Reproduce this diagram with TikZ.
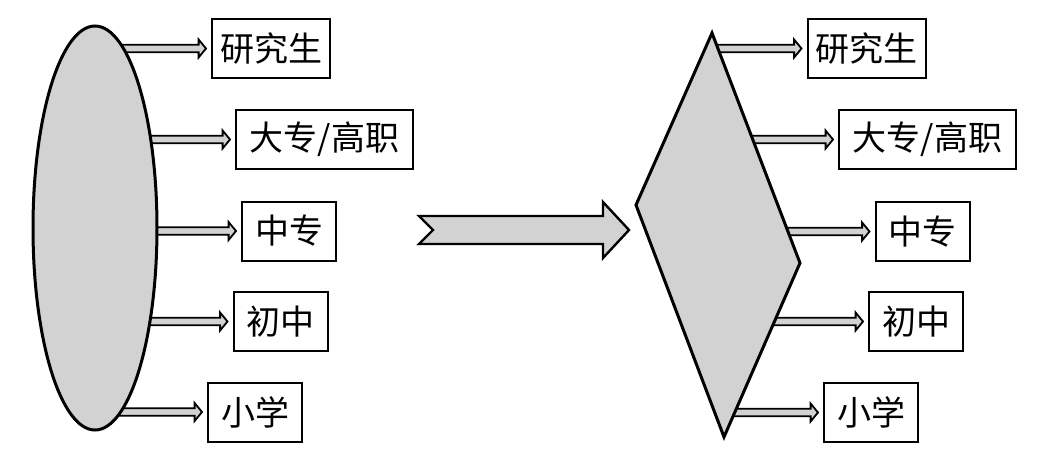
\documentclass[tikz,border=0pt]{standalone}
\usepackage{fontspec}
\newfontfamily\cjk{Noto Sans CJK SC}
\usepackage{tikz}
\usetikzlibrary{calc,shapes.geometric}

% flat double arrow from a point to a box
\newcommand{\fatarrow}[2]{%
  \path[fat] let \p1=(#1), \p2=(#2) in
    (\x1,\y1+1.9pt) -- (\x2-6.2pt,\y1+1.9pt) -- (\x2-6.2pt,\y1+4.5pt)
    -- (\x2-2.5pt,\y1) -- (\x2-6.2pt,\y1-4.5pt) -- (\x2-6.2pt,\y1-1.9pt)
    -- (\x1,\y1-1.9pt) -- cycle;}

\begin{document}
\begin{tikzpicture}[
  x=0.5pt, y=-0.5pt,
  every node/.style={font=\cjk\fontsize{17}{20}\selectfont},
  level/.style={rectangle, draw, line width=1pt, minimum width=47pt, minimum height=29.5pt, inner xsep=4pt, inner ysep=0pt},
  fat/.style={draw, fill=gray!35, line width=0.9pt, line join=miter},
  blob/.style={draw, fill=gray!35, line width=1.5pt, line join=miter}
]
\useasboundingbox (0,0) rectangle (1055,467);

% LEFT: ellipse
\node[level] (phdL) at (271,48.5) {研究生};
\node[level, minimum width=88.5pt] (colL) at (324.5,139.5) {大专/高职};
\node[level] (secL) at (289,231) {中专};
\node[level] (midL) at (280.5,321.5) {初中};
\node[level] (priL) at (255,412) {小学};

\coordinate (educ) at (95,228);
\fatarrow{educ |- phdL.west}{phdL.west}
\fatarrow{educ |- colL.west}{colL.west}
\fatarrow{educ |- secL.west}{secL.west}
\fatarrow{educ |- midL.west}{midL.west}
\fatarrow{educ |- priL.west}{priL.west}

\node[blob, ellipse, minimum width=62pt, minimum height=202pt, inner sep=0pt] (edu) at (educ) {};

% MIDDLE: big arrow
\draw[blob, line width=1.2pt] (419,216) -- (603,216) -- (603,202) -- (629,230)
  -- (603,258) -- (603,244) -- (419,244) -- (433,230) -- cycle;

% RIGHT: diamond
\node[level] (phdR) at (866.5,48.5) {研究生};
\node[level, minimum width=88.5pt] (colR) at (927.5,139.5) {大专/高职};
\node[level] (secR) at (922.5,231.5) {中专};
\node[level] (midR) at (916,321.5) {初中};
\node[level] (priR) at (871,412.5) {小学};

\coordinate (dc) at (716.3,230);
\fatarrow{dc |- phdR.west}{phdR.west}
\fatarrow{dc |- colR.west}{colR.west}
\fatarrow{dc |- secR.west}{secR.west}
\fatarrow{dc |- midR.west}{midR.west}
\fatarrow{dc |- priR.west}{priR.west}

\coordinate (dT) at (712,33);
\coordinate (dR) at (800,263);
\coordinate (dB) at (724,437);
\coordinate (dL) at (636,205);
\draw[blob] (dT) -- (dR) -- (dB) -- (dL) -- cycle;

\end{tikzpicture}
\end{document}
